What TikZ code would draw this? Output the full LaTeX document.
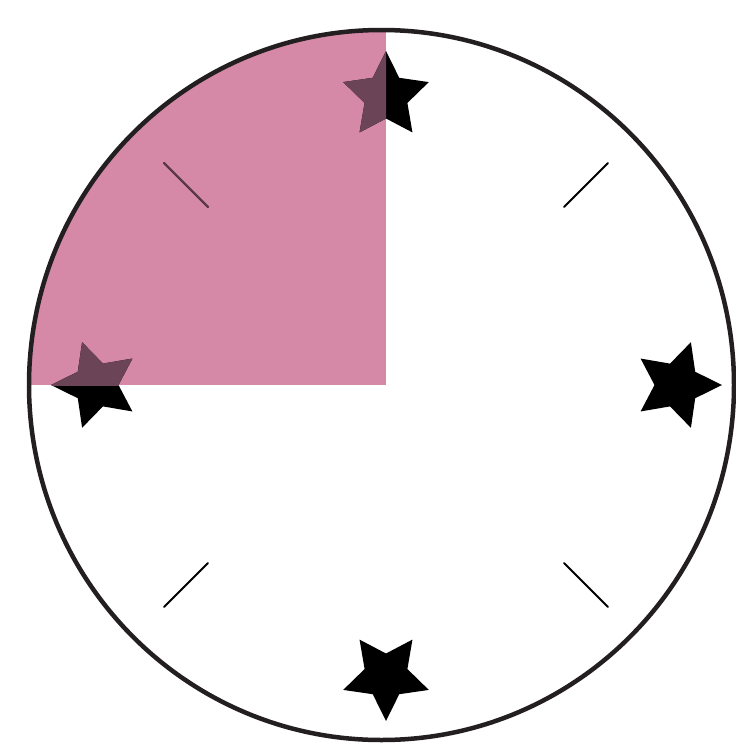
\documentclass[tikz,border=0pt]{standalone}
\usetikzlibrary{calc}
\definecolor{pinkq}{RGB}{213,137,167}
\definecolor{mauve}{RGB}{108,68,87}
\definecolor{rim}{RGB}{35,31,32}
\tikzset{
  pics/fivestar/.style={code={
    \fill (0:45) -- (36:22.5) -- (72:45) -- (108:22.5) -- (144:45) -- (180:22.5)
      -- (216:45) -- (252:22.5) -- (288:45) -- (324:22.5) -- cycle;
  }},
  tick/.style={line width=2pt, line cap=round},
  rimline/.style={draw=rim, line width=4.5pt}
}
\begin{document}
\begin{tikzpicture}[x=1pt,y=-1pt]
\useasboundingbox (0,0) rectangle (736,745);
\fill[white] (0,0) rectangle (736,745);
\coordinate (C) at (386,385);
\coordinate (E) at (381.5,385);
% pink quarter
\begin{scope}
  \clip (E) ellipse [x radius=352.5, y radius=355];
  \fill[pinkq] (0,0) rectangle (C);
\end{scope}
% ticks
\foreach \a in {45,135,225,315}
  \draw[tick, black] ($(C)+(\a:252)$) -- ($(C)+(\a:314)$);
% stars
\pic[black, rotate=90] at (386,96) {fivestar};
\pic[black] at (677,385) {fivestar};
\pic[black, rotate=-90] at (386,676) {fivestar};
\pic[black, rotate=180] at (96,385) {fivestar};
% overlap inside pink region
\begin{scope}
  \clip (E) ellipse [x radius=352.5, y radius=355];
  \clip (0,0) rectangle (C);
  \pic[mauve, rotate=90] at (386,96) {fivestar};
  \pic[mauve, rotate=180] at (96,385) {fivestar};
  \draw[tick, mauve!85!black] ($(C)+(225:252)$) -- ($(C)+(225:314)$);
\end{scope}
% rim
\draw[rimline] (E) ellipse [x radius=352.5, y radius=355];
\end{tikzpicture}
\end{document}
